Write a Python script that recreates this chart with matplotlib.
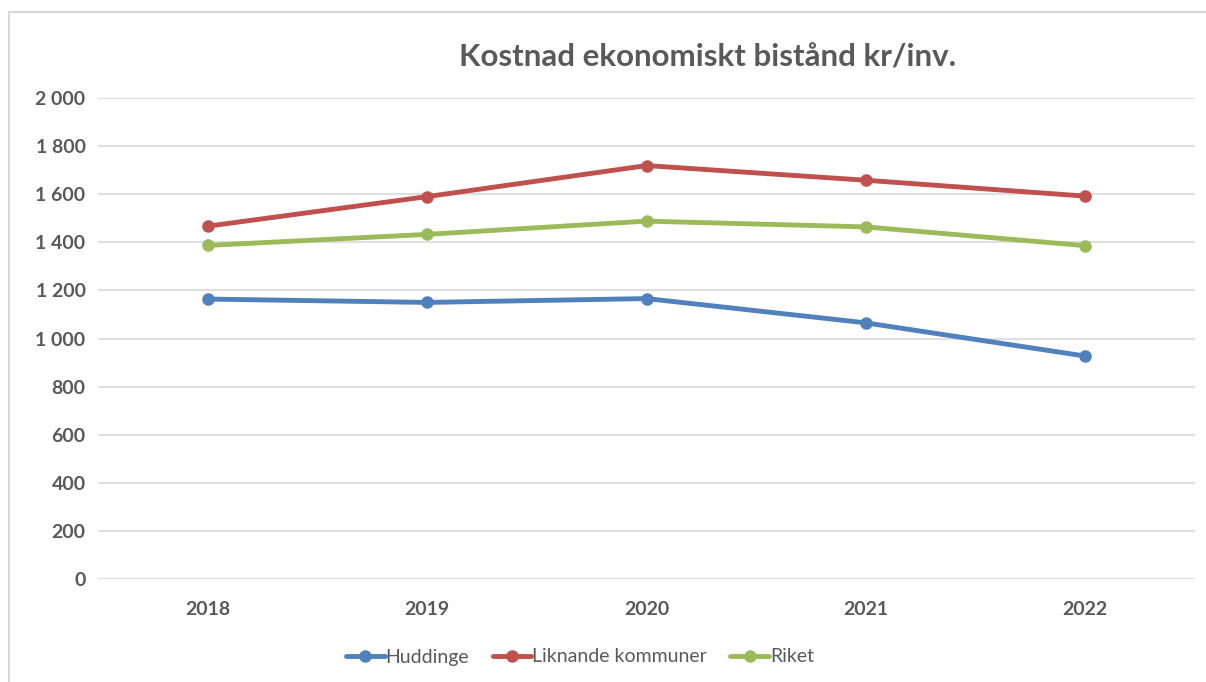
import matplotlib
matplotlib.use("Agg")
import matplotlib.pyplot as plt
from matplotlib.ticker import FuncFormatter, MultipleLocator
from matplotlib.patches import Rectangle

years = ["2018", "2019", "2020", "2021", "2022"]
huddinge = [1164, 1150, 1166, 1065, 927]
liknande = [1467, 1590, 1719, 1658, 1592]
riket = [1387, 1433, 1488, 1464, 1386]
series_names = ["Huddinge", "Liknande kommuner", "Riket"]
colors = ["#4F81BD", "#C0504D", "#9BBB59"]
title = "Kostnad ekonomiskt bistånd kr/inv."

plt.rcParams['font.family'] = ['Lato', 'DejaVu Sans']
text_color = "#595959"

fig = plt.figure(figsize=(12.06, 6.82), dpi=100)
fig.patches.append(Rectangle((9/1206, -0.05), 1.2, 1 - 12/682 + 0.05, transform=fig.transFigure,
                             fill=False, edgecolor="#D9D9D9", linewidth=1.5))

ax = fig.add_axes([98/1206, 1 - 579/682, (1195 - 98)/1206, (579 - 98)/682])
x = list(range(len(years)))
for vals, name, c in zip([huddinge, liknande, riket], series_names, colors):
    ax.plot(x, vals, color=c, linewidth=3.5, marker="o", markersize=8, label=name,
            solid_capstyle="round", zorder=3)

ax.set_xlim(-0.5, len(years) - 0.5)
ax.set_ylim(0, 2000)
ax.yaxis.set_major_locator(MultipleLocator(200))
ax.yaxis.set_major_formatter(FuncFormatter(lambda v, p: f"{int(v):,}".replace(",", " ")))
ax.set_xticks(x)
ax.set_xticklabels(years)
ax.grid(axis="y", color="#D9D9D9", linewidth=1.2, zorder=0)
ax.set_axisbelow(True)
for s in ax.spines.values():
    s.set_visible(False)
ax.tick_params(axis="both", length=0, labelsize=14, labelcolor=text_color)
ax.tick_params(axis="y", pad=9)
ax.tick_params(axis="x", pad=16)
for lab in ax.get_xticklabels() + ax.get_yticklabels():
    lab.set_fontweight("bold")

fig.text(708/1206, 1 - 58/682, title, ha="center", va="center", fontsize=22.5,
         fontweight="bold", color=text_color)

leg = fig.legend(loc="center", bbox_to_anchor=(580/1206, 1 - 657/682), ncol=3, frameon=False,
                 fontsize=14, handlelength=2.0, handletextpad=0.05, columnspacing=1.2)
for t in leg.get_texts():
    t.set_color(text_color)

fig.savefig("out.png", dpi=100)
